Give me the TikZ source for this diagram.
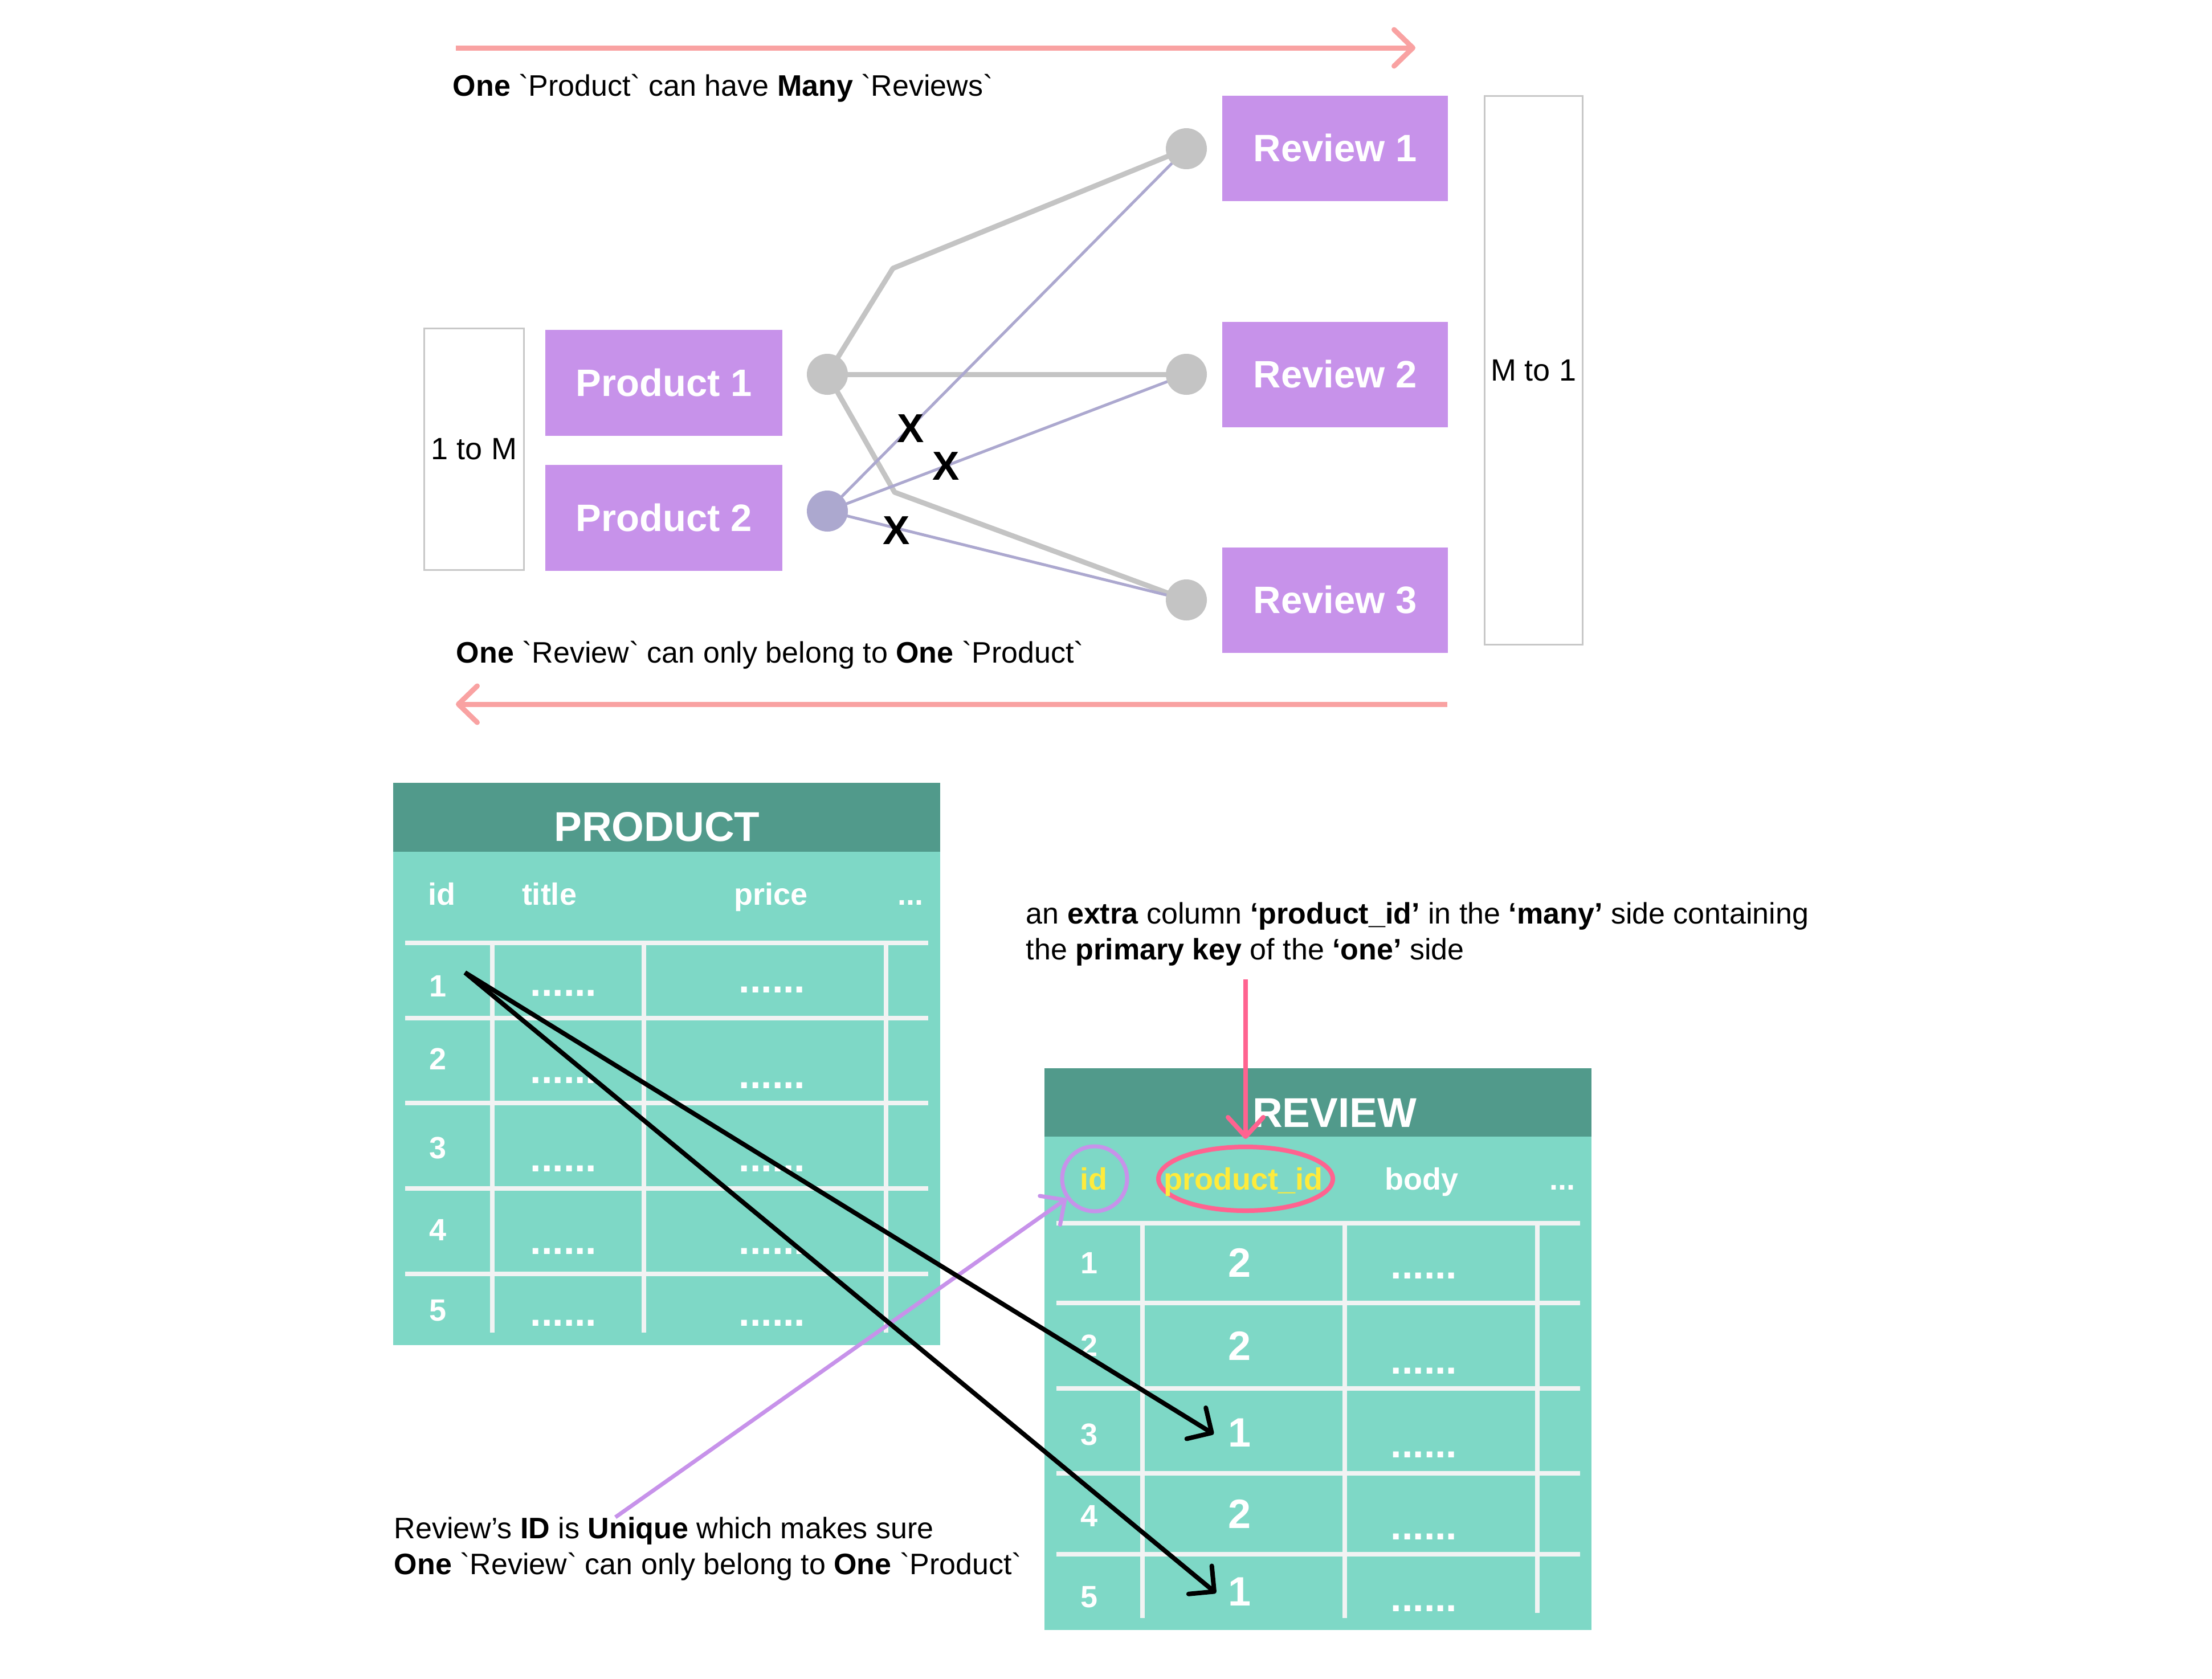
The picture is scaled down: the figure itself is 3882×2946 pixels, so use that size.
\documentclass[tikz,border=0pt]{standalone}
\usepackage{fontspec}
\setmainfont{Liberation Sans}
\usetikzlibrary{arrows.meta,shapes.geometric}
\pgfdeclarelayer{back}
\pgfdeclarelayer{bg}
\pgfsetlayers{back,bg,main}
\definecolor{boxpurple}{HTML}{C792EA}
\definecolor{lgray}{HTML}{C4C4C4}
\definecolor{lavender}{HTML}{ACA8CF}
\definecolor{salmon}{HTML}{F9A2A2}
\definecolor{hdrgreen}{HTML}{519A8B}
\definecolor{bodygreen}{HTML}{7ED8C6}
\definecolor{gridw}{HTML}{F1F3F3}
\definecolor{ylw}{HTML}{FFEB3B}
\definecolor{hotpink}{HTML}{FF6390}
\definecolor{bordergray}{HTML}{C8C8C8}
\newcommand{\bq}{\textasciigrave}
\begin{document}
\begin{tikzpicture}[x=0.25pt,y=-0.25pt,
  ent/.style={rectangle, fill=boxpurple, text=white, font=\fontsize{16.75pt}{20pt}\selectfont\bfseries, inner sep=0pt},
  pentity/.style={ent, minimum width=104pt, minimum height=46.5pt},
  rentity/.style={ent, minimum width=99pt, minimum height=46.25pt},
  gdot/.style={circle, fill=lgray, minimum size=18pt, inner sep=0pt},
  tagbox/.style={rectangle, draw=bordergray, line width=0.75pt, font=\fontsize{13.5pt}{16pt}\selectfont, inner sep=0pt},
  busline/.style={draw=lgray, line width=2.25pt, line join=round},
  thinline/.style={draw=lavender, line width=1.25pt},
  xmark/.style={font=\fontsize{17.75pt}{20pt}\selectfont\bfseries, inner sep=0pt},
  caption/.style={anchor=base west, inner sep=0pt, font=\fontsize{13pt}{16pt}\selectfont},
  relarrow/.style={draw=salmon, line width=2.25pt, -{Straight Barb[length=8.25pt,width=16pt,round]}},
  gridline/.style={draw=gridw, line width=2pt},
  ttitle/.style={anchor=base, inner sep=0pt, text=white, font=\fontsize{18.25pt}{20pt}\selectfont\bfseries},
  colhead/.style={anchor=base, inner sep=0pt, text=white, font=\fontsize{13.5pt}{16pt}\selectfont\bfseries},
  cellval/.style={anchor=base, inner sep=0pt, text=white, font=\fontsize{18pt}{20pt}\selectfont\bfseries},
  dotrow/.style={anchor=base, inner sep=0pt, text=white, font=\fontsize{17.5pt}{20pt}\selectfont\bfseries},
  link/.style={draw=black, line width=2pt, -{Straight Barb[length=8pt,width=16pt,round]}},
]
\begin{pgfonlayer}{back}
\useasboundingbox[fill=white] (0,0) rectangle (3882,2946);
\end{pgfonlayer}

% ---------------- top diagram ----------------
\coordinate (ta1) at (800,84);
\coordinate (ta2) at (2484,84);
\draw[relarrow] (ta1) -- (ta2);
\node[caption] (cap1) at (794,168) {\textbf{One} \bq Product\bq\ can have \textbf{Many} \bq Reviews\bq};

\node[tagbox, minimum width=43.75pt, minimum height=106pt] (onetom) at (832,788) {1 to M};
\node[tagbox, minimum width=43pt, minimum height=240.75pt] (mtoone) at (2691,650) {M to 1};

\node[pentity] (p1box) at (1165,672) {Product 1};
\node[pentity] (p2box) at (1165,909) {Product 2};
\node[rentity] (r1box) at (2343,260) {Review 1};
\node[rentity] (r2box) at (2343,657) {Review 2};
\node[rentity] (r3box) at (2343,1053) {Review 3};

\node[gdot] (p1dot) at (1452,657) {};
\node[gdot, fill=lavender] (p2dot) at (1452,897) {};
\node[gdot] (r1dot) at (2082,261) {};
\node[gdot] (r2dot) at (2082,657) {};
\node[gdot] (r3dot) at (2082,1053) {};
\coordinate (b1) at (1567,471);
\coordinate (b2) at (1570,864);

\begin{pgfonlayer}{bg}
\draw[busline] (p1dot.center) -- (b1) -- (r1dot.center);
\draw[busline] (p1dot.center) -- (r2dot.center);
\draw[busline] (p1dot.center) -- (b2) -- (r3dot.center);
\draw[thinline] (p2dot.center) -- (r1dot.center);
\draw[thinline] (p2dot.center) -- (r2dot.center);
\draw[thinline] (p2dot.center) -- (r3dot.center);
\end{pgfonlayer}

\node[xmark] (x1) at (1598,752) {X};
\node[xmark] (x2) at (1660,818) {X};
\node[xmark] (x3) at (1573,931) {X};

\node[caption] (cap2) at (800,1163) {\textbf{One} \bq Review\bq\ can only belong to \textbf{One} \bq Product\bq};
\coordinate (ba1) at (2540,1236);
\coordinate (ba2) at (800,1236);
\draw[relarrow] (ba1) -- (ba2);

% ---------------- PRODUCT table ----------------
\fill[hdrgreen] (690,1374) rectangle (1650,1495);
\fill[bodygreen] (690,1495) rectangle (1650,2361);
\foreach \yy in {1655,1787,1936,2086,2236} \draw[gridline] (711,\yy) -- (1629,\yy);
\foreach \xx in {864,1130,1555} \draw[gridline] (\xx,1655) -- (\xx,2339);
\node[ttitle] (ptitle) at (1153,1476) {PRODUCT};
\node[colhead] (ph1) at (775,1588) {id};
\node[colhead] (ph2) at (964,1588) {title};
\node[colhead] (ph3) at (1353,1588) {price};
\node[colhead] (ph4) at (1598,1588) {...};
\node[colhead] (pr1) at (769,1749) {1};
\node[colhead] (pr2) at (769,1877) {2};
\node[colhead] (pr3) at (769,2033) {3};
\node[colhead] (pr4) at (769,2177) {4};
\node[colhead] (pr5) at (769,2318) {5};
\node[dotrow] (pt1) at (989,1748) {......};
\node[dotrow] (pt2) at (989,1901) {......};
\node[dotrow] (pt3) at (989,2056) {......};
\node[dotrow] (pt4) at (989,2201) {......};
\node[dotrow] (pt5) at (989,2327) {......};
\node[dotrow] (pp1) at (1355,1742) {......};
\node[dotrow] (pp2) at (1355,1910) {......};
\node[dotrow] (pp3) at (1355,2056) {......};
\node[dotrow] (pp4) at (1355,2201) {......};
\node[dotrow] (pp5) at (1355,2327) {......};

% ---------------- REVIEW table ----------------
\fill[hdrgreen] (1833,1875) rectangle (2793,1995);
\fill[bodygreen] (1833,1995) rectangle (2793,2861);
\foreach \yy in {2147,2287,2437,2586,2728} \draw[gridline] (1854,\yy) -- (2773,\yy);
\foreach \xx in {2005,2360} \draw[gridline] (\xx,2147) -- (\xx,2840);
\draw[gridline] (2698,2147) -- (2698,2831);
\node[ttitle] (rtitle) at (2342,1978) {REVIEW};
\node[circle, draw=boxpurple, line width=1.75pt, minimum size=28.5pt, inner sep=0pt] (idring) at (1921,2069) {};
\node[ellipse, draw=hotpink, line width=2pt, minimum width=76.5pt, minimum height=28pt, inner sep=0pt] (pidring) at (2186,2069) {};
\node[colhead, text=ylw] (rh1) at (1919,2088) {id};
\node[colhead, text=ylw] (rh2) at (2182,2088) {product\_id};
\node[colhead] (rh3) at (2495,2088) {body};
\node[colhead] (rh4) at (2742,2088) {...};
\node[colhead] (rr1) at (1911,2235) {1};
\node[colhead] (rr2) at (1911,2380) {2};
\node[colhead] (rr3) at (1911,2536) {3};
\node[colhead] (rr4) at (1911,2679) {4};
\node[colhead] (rr5) at (1911,2821) {5};
\node[cellval] (rv1) at (2175,2241) {2};
\node[cellval] (rv2) at (2175,2387) {2};
\node[cellval] (rv3) at (2175,2539) {1};
\node[cellval] (rv4) at (2175,2682) {2};
\node[cellval] (rv5) at (2175,2818) {1};
\node[dotrow] (rb1) at (2499,2244) {......};
\node[dotrow] (rb2) at (2499,2411) {......};
\node[dotrow] (rb3) at (2499,2558) {......};
\node[dotrow] (rb4) at (2499,2702) {......};
\node[dotrow] (rb5) at (2499,2828) {......};

% ---------------- annotations ----------------
\node[caption] (ann1a) at (1800,1621) {an \textbf{extra} column \textbf{‘product\_id’} in the \textbf{‘many’} side containing};
\node[caption] (ann1b) at (1800,1684) {the \textbf{primary key} of the \textbf{‘one’} side};
\coordinate (pinkstart) at (2186,1719);
\draw[draw=hotpink, line width=2pt, -{Straight Barb[length=8.5pt,width=15.5pt,round]}, shorten >=2.5pt] (pinkstart) -- (pidring.north);

\node[caption] (ann2a) at (691,2700) {Review’s \textbf{ID} is \textbf{Unique} which makes sure};
\node[caption] (ann2b) at (691,2763) {\textbf{One} \bq Review\bq\ can only belong to \textbf{One} \bq Product\bq};
\coordinate (purpstart) at (1080,2663);
\draw[draw=boxpurple, line width=1.75pt, -{Straight Barb[length=8pt,width=15.5pt,round]}] (purpstart) -- (idring);

% black links
\coordinate (lstart) at (816,1707);
\coordinate (l3end) at (2130,2517);
\coordinate (l5end) at (2134,2796);
\draw[link] (lstart) -- (l3end);
\draw[link] (lstart) -- (l5end);
\end{tikzpicture}
\end{document}
